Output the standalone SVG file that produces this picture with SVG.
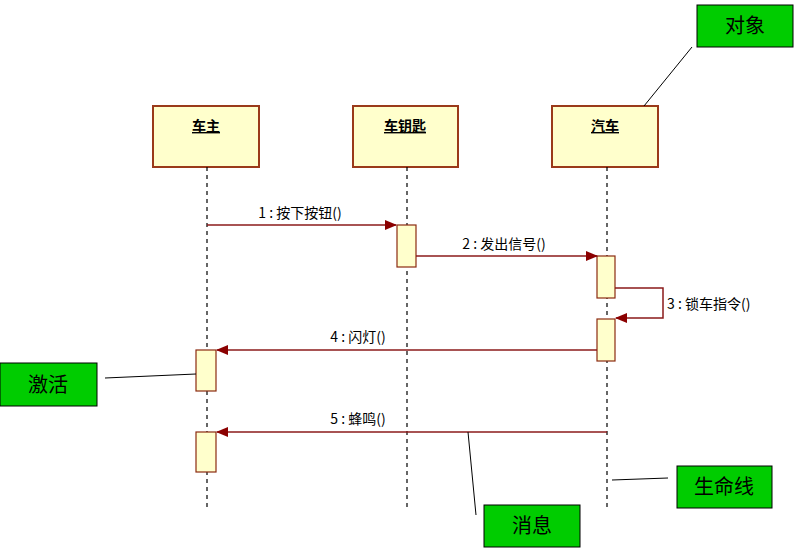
<svg xmlns="http://www.w3.org/2000/svg" width="809" height="552" viewBox="0 0 809 552">
<style>
.obj{fill:#ffffcc;stroke:#9a3a1a;stroke-width:2}
.act{fill:#ffffcc;stroke:#8b2a10;stroke-width:1.2}
.life{stroke:#000;stroke-width:1.2;stroke-dasharray:4,4}
.msg{stroke:#8b1a1a;stroke-width:1.5;fill:none}
.t{font-family:"Noto Sans CJK SC","Liberation Sans",sans-serif;font-size:14px;fill:#000}
.n{font-family:"Noto Sans CJK SC",sans-serif;font-size:20px;fill:#000}
.note{fill:#00cc00;stroke:#000;stroke-width:1}
.ln{stroke:#000;stroke-width:1}
</style>
<defs><marker id="a" markerWidth="12" markerHeight="10" refX="11" refY="5" orient="auto" markerUnits="userSpaceOnUse"><path d="M0,0L12,5L0,10z" fill="#8b0000"/></marker></defs>
<rect width="809" height="552" fill="#fff"/>
<g id="owner"><rect class="obj" x="153" y="106" width="106" height="61"/><text class="t" x="206" y="131" text-anchor="middle" font-weight="bold" text-decoration="underline">车主</text><line class="life" x1="207" y1="167" x2="207" y2="510"/><rect class="act" x="196" y="350" width="20" height="41"/><rect class="act" x="196" y="432" width="20" height="40"/></g>
<g id="key"><rect class="obj" x="353" y="106" width="105" height="61"/><text class="t" x="405" y="131" text-anchor="middle" font-weight="bold" text-decoration="underline">车钥匙</text><line class="life" x1="407" y1="167" x2="407" y2="510"/><rect class="act" x="397" y="225" width="19" height="42"/></g>
<g id="car"><rect class="obj" x="552" y="106" width="106" height="61"/><text class="t" x="605" y="131" text-anchor="middle" font-weight="bold" text-decoration="underline">汽车</text><line class="life" x1="607" y1="167" x2="607" y2="510"/><rect class="act" x="597" y="256" width="18" height="42"/><rect class="act" x="597" y="319" width="18" height="42"/></g>
<g id="connectors">
<line class="msg" x1="207" y1="225" x2="396" y2="225" marker-end="url(#a)"/>
<line class="msg" x1="416" y1="256" x2="597" y2="256" marker-end="url(#a)"/>
<polyline class="msg" points="615,288 663,288 663,318 616,318" marker-end="url(#a)"/>
<line class="msg" x1="597" y1="350" x2="217" y2="350" marker-end="url(#a)"/>
<line class="msg" x1="607" y1="432" x2="217" y2="432" marker-end="url(#a)"/>
<line class="ln" x1="692" y1="47" x2="644" y2="106"/>
<line class="ln" x1="105" y1="378" x2="196" y2="374"/>
<line class="ln" x1="612" y1="480" x2="668" y2="478"/>
<line class="ln" x1="468" y1="432" x2="476" y2="515"/>
</g>
<g id="labels">
<text class="t" x="300" y="218" text-anchor="middle">1 : 按下按钮()</text>
<text class="t" x="504" y="249" text-anchor="middle">2 : 发出信号()</text>
<text class="t" x="667" y="309">3 : 锁车指令()</text>
<text class="t" x="358" y="342" text-anchor="middle">4 : 闪灯()</text>
<text class="t" x="358" y="424" text-anchor="middle">5 : 蜂鸣()</text>
</g>
<g id="note-obj"><rect class="note" x="697" y="5" width="96" height="42"/><text class="n" x="745" y="33" text-anchor="middle">对象</text></g>
<g id="note-act"><rect class="note" x="0" y="363" width="97" height="43"/><text class="n" x="48" y="392" text-anchor="middle">激活</text></g>
<g id="note-life"><rect class="note" x="677" y="466" width="95" height="42"/><text class="n" x="724" y="494" text-anchor="middle">生命线</text></g>
<g id="note-msg"><rect class="note" x="484" y="505" width="96" height="42"/><text class="n" x="532" y="533" text-anchor="middle">消息</text></g>
</svg>
